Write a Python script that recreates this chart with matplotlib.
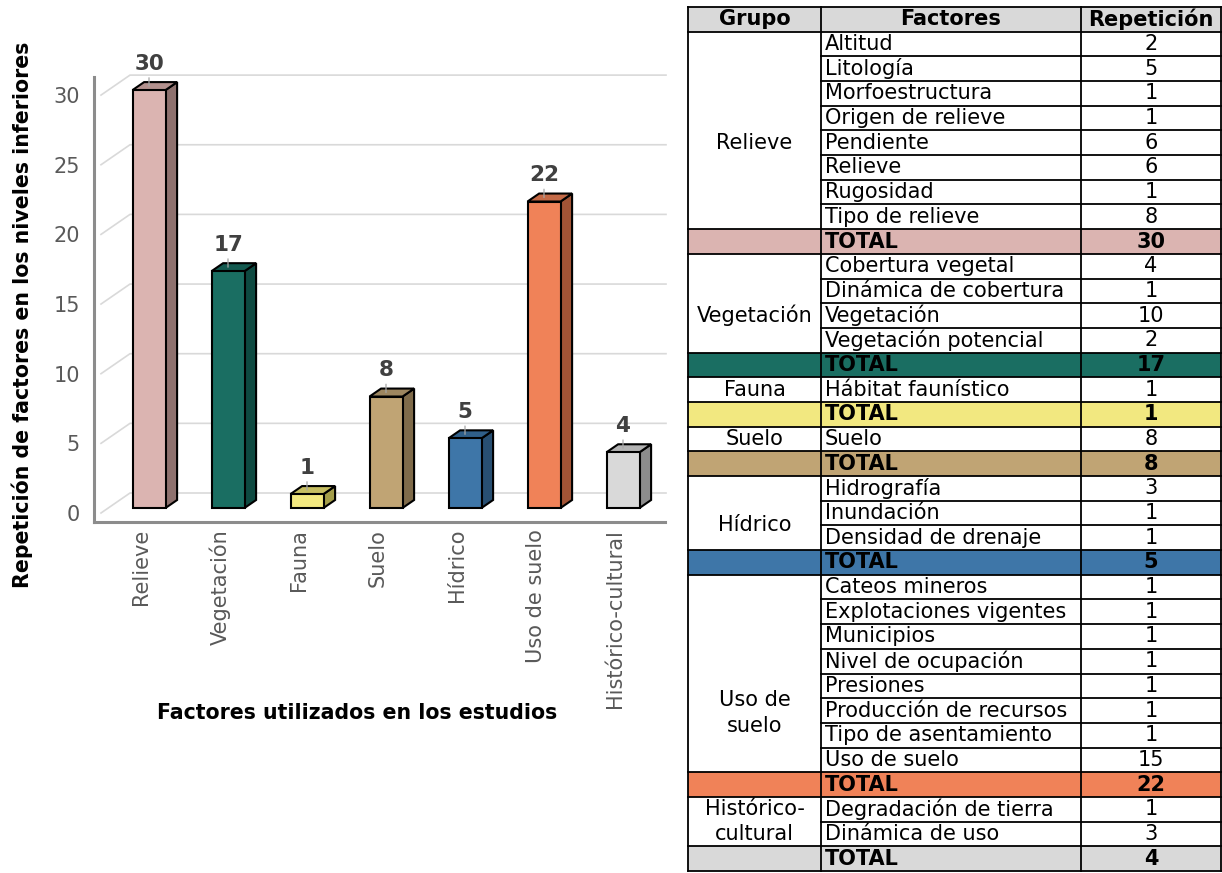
import matplotlib
matplotlib.use("Agg")
import matplotlib.pyplot as plt
from matplotlib.patches import Polygon, Rectangle
from matplotlib.transforms import ScaledTranslation

# ---------------- data ----------------
categories = ["Relieve", "Vegetación", "Fauna", "Suelo", "Hídrico",
              "Uso de suelo", "Histórico-cultural"]
totals = [30, 17, 1, 8, 5, 22, 4]

group_labels = ["Relieve", "Vegetación", "Fauna", "Suelo", "Hídrico",
                "Uso de\nsuelo", "Histórico-\ncultural"]

relieve_factors = ["Altitud", "Litología", "Morfoestructura", "Origen de relieve",
                   "Pendiente", "Relieve", "Rugosidad", "Tipo de relieve"]
relieve_counts = [2, 5, 1, 1, 6, 6, 1, 8]
vegetacion_factors = ["Cobertura vegetal", "Dinámica de cobertura", "Vegetación",
                      "Vegetación potencial"]
vegetacion_counts = [4, 1, 10, 2]
fauna_factors = ["Hábitat faunístico"]
fauna_counts = [1]
suelo_factors = ["Suelo"]
suelo_counts = [8]
hidrico_factors = ["Hidrografía", "Inundación", "Densidad de drenaje"]
hidrico_counts = [3, 1, 1]
uso_factors = ["Cateos mineros", "Explotaciones vigentes", "Municipios",
               "Nivel de ocupación", "Presiones", "Producción de recursos",
               "Tipo de asentamiento", "Uso de suelo"]
uso_counts = [1, 1, 1, 1, 1, 1, 1, 15]
historico_factors = ["Degradación de tierra", "Dinámica de uso"]
historico_counts = [1, 3]

table_factors = [relieve_factors, vegetacion_factors, fauna_factors, suelo_factors,
                 hidrico_factors, uso_factors, historico_factors]
table_counts = [relieve_counts, vegetacion_counts, fauna_counts, suelo_counts,
                hidrico_counts, uso_counts, historico_counts]

front_colors = ["#dbb4b1", "#1a6e62", "#f2e880", "#c0a474", "#3e76a8",
                "#f08258", "#d9d9d9"]
top_colors = ["#b3918e", "#145a50", "#c6be62", "#9d865f", "#305f89",
              "#c46a47", "#b3b3b3"]
side_colors = ["#8e716e", "#0e4a41", "#a49e4a", "#7f6b4a", "#284f72",
               "#a25436", "#8c8c8c"]

# vertical nudge of the group name inside its merged cell (in rows)
group_label_shift = [0.5, 0.5, 0.0, 0.0, 0.5, 1.6, 0.0]

plt.rcParams["font.family"] = ["DejaVu Sans"]

W, H = 1222, 873
fig = plt.figure(figsize=(W / 100, H / 100), dpi=100)

# ---------------- 3-D column chart ----------------
ax = fig.add_axes([94 / W, 1 - 522 / H, (665 - 94) / W, (522 - 77) / H])
UX = 1 / 79.0      # data units per pixel, horizontal
UY = 1 / 13.93     # data units per pixel, vertical
ax.set_xlim(-55 * UX, 516 * UX)
ax.set_ylim(-14 * UY, 431 * UY)

DX, DY = 29 * UX, 20 * UY          # depth of the chart walls
D_FRONT, D_BACK = 0.25, 0.65       # depth span occupied by the columns
HALF_W = 16.5 * UX


def P(x, v, d):
    """Project a point at depth d (0 = front, 1 = back wall)."""
    return (x + (d - D_FRONT) * DX, v + (d - D_FRONT) * DY)


x_left = -48 * UX + D_FRONT * DX
x_right = 517 * UX - (1 - D_FRONT) * DX
grid_col = "#d9d9d9"
for v in range(0, 31, 5):
    pts = [P(x_left, v, 0), P(x_left, v, 1), P(x_right, v, 1)]
    ax.plot([p[0] for p in pts], [p[1] for p in pts], color=grid_col,
            lw=1.2, zorder=1, clip_on=False, solid_joinstyle="miter")

for i, v in enumerate(totals):
    xl, xr = i - HALF_W, i + HALF_W
    front = Polygon([(xl, 0), (xr, 0), (xr, v), (xl, v)], closed=True,
                    facecolor=front_colors[i], edgecolor="black", lw=1.5,
                    zorder=3, joinstyle="miter")
    top = Polygon([P(xl, v, D_FRONT), P(xr, v, D_FRONT), P(xr, v, D_BACK),
                   P(xl, v, D_BACK)], closed=True, facecolor=top_colors[i],
                  edgecolor="black", lw=1.5, zorder=3, joinstyle="miter")
    side = Polygon([P(xr, 0, D_FRONT), P(xr, 0, D_BACK), P(xr, v, D_BACK),
                    P(xr, v, D_FRONT)], closed=True, facecolor=side_colors[i],
                   edgecolor="black", lw=1.5, zorder=3, joinstyle="miter")
    for patch in (side, top, front):
        ax.add_patch(patch)
    ax.annotate(str(v), xy=(i, v + 0.2 * DY), xytext=(0, 9),
                textcoords="offset points", ha="center", va="bottom",
                fontsize=15.5, fontweight="bold", color="#404040", zorder=4,
                arrowprops=dict(arrowstyle="-", color="#a6a6a6", lw=0.9,
                                shrinkA=1, shrinkB=0))

for side_name in ("top", "right"):
    ax.spines[side_name].set_visible(False)
for side_name in ("left", "bottom"):
    ax.spines[side_name].set_color("#8c8c8c")
    ax.spines[side_name].set_linewidth(2.2)

ax.set_yticks(range(0, 31, 5))
ax.set_xticks(range(len(categories)))
ax.set_xticklabels(categories, rotation=90, ha="center", va="top")
ax.tick_params(axis="both", length=0, labelsize=15, labelcolor="#595959")
ax.tick_params(axis="y", pad=10)
ax.tick_params(axis="x", pad=5)
y_shift = ScaledTranslation(0, -0.05, fig.dpi_scale_trans)
for lab in ax.get_yticklabels():
    lab.set_transform(lab.get_transform() + y_shift)
x_shift = ScaledTranslation(-0.08, 0, fig.dpi_scale_trans)
for lab in ax.get_xticklabels():
    lab.set_transform(lab.get_transform() + x_shift)

fig.text(22 / W, 1 - 315 / H, "Repetición de factores en los niveles inferiores",
         rotation=90, ha="center", va="center", fontsize=14.8,
         fontweight="bold", color="black")
fig.text(357 / W, 1 - 713 / H, "Factores utilizados en los estudios",
         ha="center", va="center", fontsize=14.8, fontweight="bold",
         color="black")

# ---------------- summary table ----------------
tax = fig.add_axes([688 / W, 1 - 871 / H, (1221 - 688) / W, (871 - 7) / H])
tax.axis("off")
cols = [0, 133, 393, 533]
rows = []   # (kind, group, factor, count)
for g, (facs, cnts) in enumerate(zip(table_factors, table_counts)):
    for f, c in zip(facs, cnts):
        rows.append(("item", g, f, c))
    rows.append(("total", g, "TOTAL", totals[g]))
n_rows = len(rows) + 1
tax.set_xlim(0, cols[-1])
tax.set_ylim(n_rows, 0)

fs = 15
lw = 1.3
tax.add_patch(Rectangle((0, 0), cols[-1], 1, facecolor="#d9d9d9",
                        edgecolor="none", zorder=1))
for j, head in enumerate(["Grupo", "Factores", "Repetición"]):
    tax.text((cols[j] + cols[j + 1]) / 2, 0.5, head, ha="center", va="center",
             fontsize=fs, fontweight="bold", zorder=3)

for r, (kind, g, fac, cnt) in enumerate(rows, start=1):
    weight = "normal"
    if kind == "total":
        tax.add_patch(Rectangle((0, r), cols[-1], 1, facecolor=front_colors[g],
                                edgecolor="none", zorder=1))
        weight = "bold"
    tax.text(cols[1] + 4, r + 0.5, fac, ha="left", va="center", fontsize=fs,
             fontweight=weight, zorder=3)
    tax.text((cols[2] + cols[3]) / 2, r + 0.5, str(cnt), ha="center",
             va="center", fontsize=fs, fontweight=weight, zorder=3)

# group names in merged cells
start = 1
for g, facs in enumerate(table_factors):
    n = len(facs)
    yc = start + n / 2 + group_label_shift[g]
    tax.text((cols[0] + cols[1]) / 2, yc, group_labels[g], ha="center",
             va="center", fontsize=fs, zorder=3, linespacing=1.35)
    start += n + 1

# grid lines
for k in range(n_rows + 1):
    x0 = cols[0]
    if 1 <= k - 1 and k < n_rows:
        above, below = rows[k - 2], rows[k - 1]
        if above[0] == "item" and below[0] == "item" and above[1] == below[1]:
            x0 = cols[1]
    tax.plot([x0, cols[-1]], [k, k], color="black", lw=lw, zorder=4,
             clip_on=False, solid_capstyle="projecting")
for x in cols:
    tax.plot([x, x], [0, n_rows], color="black", lw=lw, zorder=4,
             clip_on=False, solid_capstyle="projecting")

fig.savefig("out.png", dpi=100, facecolor="white")
